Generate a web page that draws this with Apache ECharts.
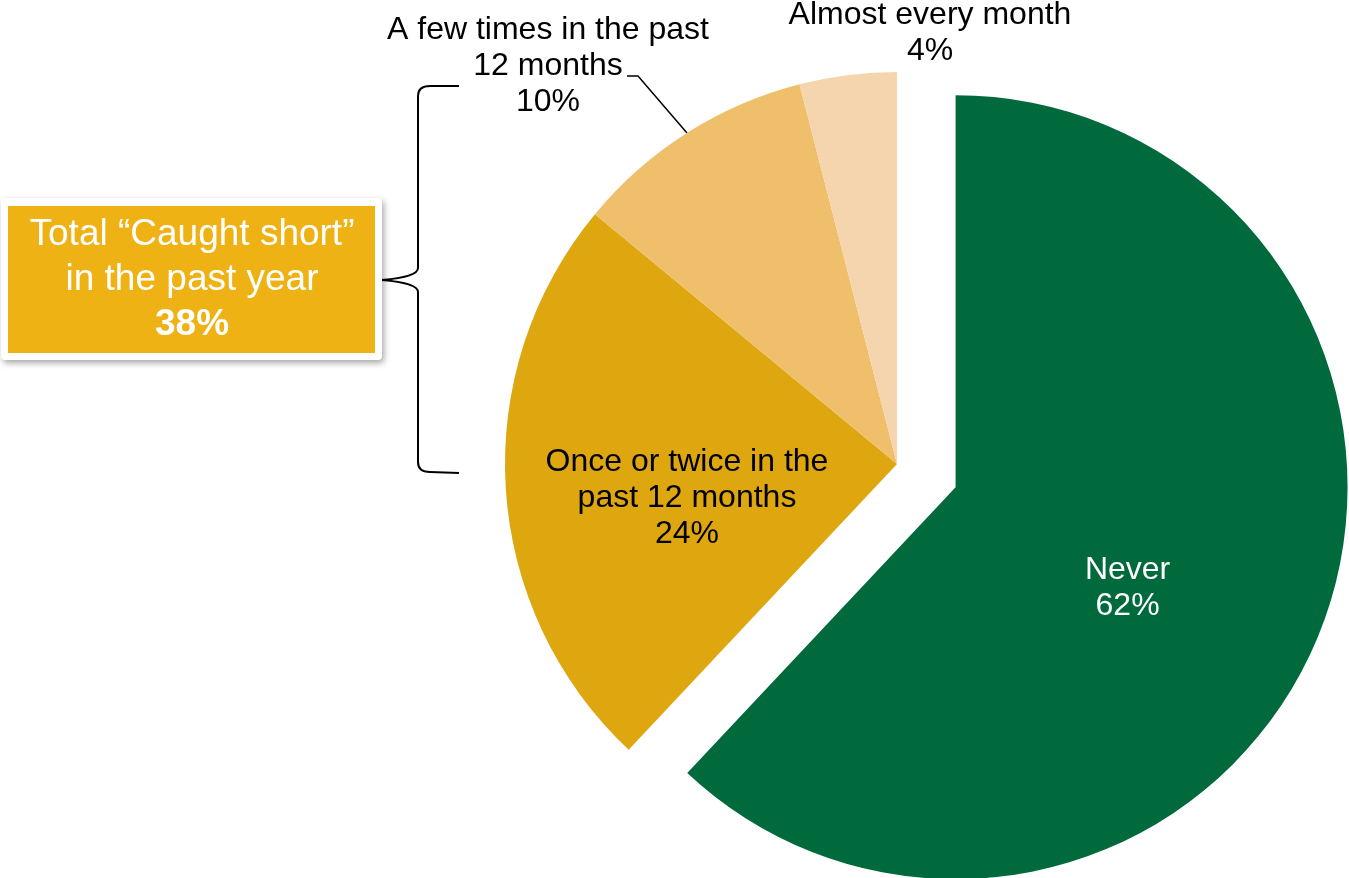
<!DOCTYPE html>
<html>
<head>
<meta charset="utf-8">
<script src="https://cdn.jsdelivr.net/npm/echarts@6/dist/echarts.min.js"></script>
<style>
  html, body { margin: 0; padding: 0; background: #fff; }
  #chart { width: 1349px; height: 878px; }
</style>
</head>
<body>
<div id="chart"></div>
<script>
// ---- Data ----
const categories = [
  'Never',
  'Once or twice in the\npast 12 months',
  'A few times in the past\n12 months',
  'Almost every month'
];
const values = [62, 24, 10, 4];
const colors = ['#016A3D', '#DEA60F', '#EFBF6B', '#F5D5AE'];
const labelColors = ['#ffffff', '#000000', '#000000', '#000000'];
const totalLabel = 'Total “Caught short”\nin the past year';
const totalValue = values[1] + values[2] + values[3];

// ---- Layout (positions only) ----
const labelPos = [null, [687, 498], [548, 66], [930, 33]];
const leader = [[687, 133], [638, 76], [627, 76]];

const chart = echarts.init(document.getElementById('chart'), null, { renderer: 'canvas' });

const FONT = 'Liberation Sans, Arial, sans-serif';

const data = categories.map((c, i) => ({
  name: c,
  value: values[i],
  selected: i === 0,
  itemStyle: { color: colors[i] },
  label: Object.assign({
    color: labelColors[i],
    position: i < 2 ? 'inside' : 'outside'
  }, i === 0 ? {
    formatter: '{s| }\n{b}\n{c}%',
    padding: [0, 26, 0, 0],
    rich: { s: { fontSize: 10, lineHeight: 56 } }
  } : {}),
  labelLine: { show: i === 2, lineStyle: { color: '#000', width: 1.5 }, smooth: false }
}));

const braceStyle = { fill: 'none', stroke: '#000', lineWidth: 2 };
function seg(x1, y1, x2, y2) {
  return { type: 'line', shape: { x1, y1, x2, y2 }, style: braceStyle };
}
function curve(x1, y1, cx, cy, x2, y2) {
  return { type: 'bezierCurve', shape: { x1, y1, cpx1: cx, cpy1: cy, x2, y2 }, style: braceStyle };
}

const option = {
  animation: false,
  backgroundColor: '#ffffff',
  series: [{
    type: 'pie',
    center: [897, 464],
    radius: [0, 392],
    startAngle: 90,
    clockwise: true,
    selectedMode: 'single',
    selectedOffset: 63,
    avoidLabelOverlap: false,
    emphasis: { disabled: true },
    itemStyle: { borderWidth: 0 },
    label: {
      formatter: '{b}\n{c}%',
      fontFamily: FONT,
      fontSize: 32,
      lineHeight: 36,
      align: 'center'
    },
    labelLayout: function (params) {
      const p = labelPos[params.dataIndex];
      if (!p) return {};
      const res = { x: p[0], y: p[1], align: 'center', verticalAlign: 'middle' };
      if (params.dataIndex === 2) res.labelLinePoints = leader;
      return res;
    },
    data: data
  }],
  graphic: [
    seg(459, 86, 430, 86),
    curve(430, 86, 418, 86, 418, 96),
    seg(418, 96, 418, 268),
    curve(418, 268, 418, 277, 382, 280),
    curve(382, 280, 418, 283, 418, 292),
    seg(418, 292, 418, 462),
    curve(418, 462, 418, 472, 430, 472),
    seg(430, 472, 459, 473),
    {
      type: 'rect',
      shape: { x: 1, y: 198, width: 381, height: 162, r: 4 },
      style: {
        fill: '#ffffff',
        shadowBlur: 6,
        shadowColor: 'rgba(0,0,0,0.35)',
        shadowOffsetX: 2,
        shadowOffsetY: 3
      }
    },
    {
      type: 'rect',
      shape: { x: 8, y: 206, width: 367, height: 147 },
      style: { fill: '#EEB214' }
    },
    {
      type: 'text',
      x: 192,
      y: 280,
      style: {
        text: totalLabel.split('\n').map(s => '{n|' + s + '}').join('\n') + '\n{b|' + totalValue + '%}',
        align: 'center',
        verticalAlign: 'middle',
        fill: '#ffffff',
        fontFamily: FONT,
        fontSize: 37,
        lineHeight: 45,
        rich: {
          n: { fontSize: 37, lineHeight: 45, fill: '#ffffff', fontFamily: FONT },
          b: { fontSize: 37, lineHeight: 45, fill: '#ffffff', fontWeight: 'bold', fontFamily: FONT }
        }
      }
    }
  ]
};

chart.setOption(option);
</script>
</body>
</html>
